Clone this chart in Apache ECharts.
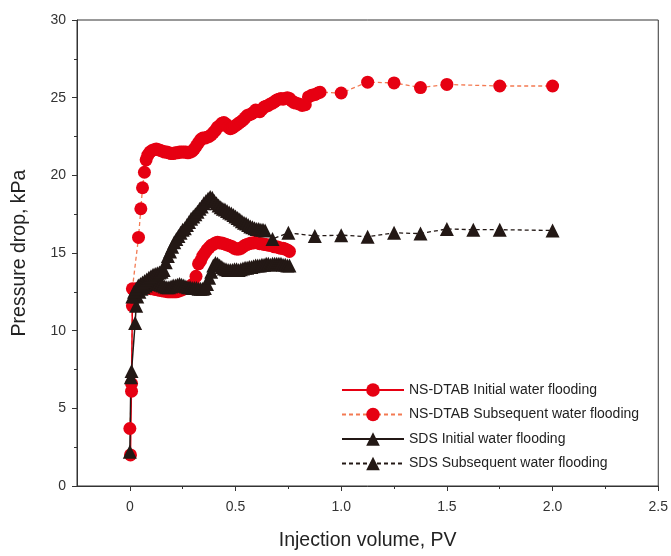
<!DOCTYPE html>
<html>
<head>
<meta charset="utf-8">
<script src="https://cdn.jsdelivr.net/npm/echarts@6/dist/echarts.min.js"></script>
<style>html,body{margin:0;padding:0;background:#fff}#c{width:671px;height:556px}</style>
</head>
<body>
<div id="c"></div>
<script>
// ---- data ----
const xTickLabels = [0, 0.5, 1.0, 1.5, 2.0, 2.5];
const xMinorTicks = [0.25, 0.75, 1.25, 1.75, 2.25];
const seriesNames = [
  'NS-DTAB Initial water flooding',
  'NS-DTAB Subsequent water flooding',
  'SDS Initial water flooding',
  'SDS Subsequent water flooding'
];

const nsInitX = [0.003,0.008,0.012,0.02,0.03,0.04,0.05,0.06,0.07,0.08,0.09,0.1,0.11,0.12,0.13,0.14,0.15,0.16,0.17,0.18,0.19,0.2,0.21,0.22,0.23,0.24,0.25,0.26,0.27,0.28,0.29,0.3,0.313,0.325,0.335,0.345,0.355,0.365,0.375,0.385,0.395,0.405,0.415,0.425,0.435,0.445,0.455,0.465,0.475,0.485,0.495,0.505,0.515,0.525,0.535,0.545,0.555,0.565,0.575,0.585,0.595,0.605,0.615,0.625,0.635,0.645,0.655,0.665,0.675,0.685,0.695,0.705,0.715,0.725,0.735,0.745,0.755];
const nsInitY = [2.0,6.6,11.6,12.6,12.7,12.7,12.75,12.8,12.8,12.75,12.75,12.7,12.7,12.65,12.65,12.6,12.6,12.55,12.55,12.5,12.5,12.5,12.5,12.5,12.55,12.6,12.65,12.7,12.75,12.8,12.9,13.0,13.5,14.3,14.5,14.8,15.0,15.2,15.35,15.5,15.55,15.65,15.7,15.65,15.65,15.6,15.55,15.5,15.45,15.4,15.3,15.25,15.25,15.3,15.4,15.5,15.55,15.6,15.65,15.65,15.7,15.65,15.6,15.6,15.55,15.55,15.5,15.5,15.45,15.4,15.4,15.35,15.3,15.3,15.25,15.2,15.1];

const nsSubX = [0.0,0.008,0.012,0.041,0.052,0.06,0.069,0.077,0.085,0.095,0.105,0.115,0.125,0.135,0.145,0.155,0.165,0.175,0.185,0.195,0.205,0.215,0.225,0.235,0.245,0.255,0.265,0.275,0.285,0.295,0.305,0.315,0.325,0.335,0.345,0.355,0.365,0.375,0.385,0.395,0.405,0.415,0.425,0.435,0.445,0.455,0.465,0.475,0.485,0.495,0.505,0.515,0.525,0.535,0.545,0.555,0.565,0.575,0.585,0.595,0.605,0.615,0.625,0.635,0.645,0.655,0.665,0.675,0.685,0.695,0.705,0.715,0.725,0.735,0.745,0.755,0.765,0.775,0.785,0.8,0.815,0.83,0.845,0.86,0.875,0.89,0.9,1.0,1.125,1.25,1.375,1.5,1.75,2.0];
const nsSubY = [3.7,6.1,12.7,16.0,17.85,19.2,20.2,21.0,21.3,21.5,21.6,21.65,21.7,21.65,21.6,21.55,21.5,21.5,21.45,21.4,21.4,21.45,21.45,21.5,21.5,21.5,21.5,21.45,21.5,21.55,21.7,21.9,22.1,22.3,22.4,22.4,22.45,22.5,22.6,22.75,22.9,23.1,23.2,23.35,23.4,23.3,23.1,23.0,23.05,23.15,23.25,23.35,23.45,23.55,23.7,23.85,23.9,23.95,24.05,24.2,24.15,24.1,24.25,24.4,24.45,24.5,24.6,24.65,24.75,24.85,24.9,24.95,24.9,24.95,25.0,24.95,24.8,24.7,24.65,24.6,24.5,24.55,25.05,25.15,25.2,25.3,25.35,25.3,26.0,25.95,25.65,25.85,25.75,25.75];

const sdsInitX = [0.0,0.005,0.008,0.025,0.03,0.035,0.045,0.055,0.065,0.075,0.085,0.095,0.105,0.115,0.125,0.135,0.145,0.155,0.165,0.175,0.185,0.195,0.205,0.215,0.225,0.235,0.245,0.255,0.265,0.275,0.285,0.295,0.305,0.315,0.325,0.335,0.345,0.355,0.365,0.375,0.385,0.395,0.405,0.415,0.425,0.435,0.445,0.455,0.465,0.475,0.485,0.495,0.505,0.515,0.525,0.535,0.545,0.555,0.565,0.575,0.585,0.595,0.605,0.615,0.625,0.635,0.645,0.655,0.665,0.675,0.685,0.695,0.705,0.715,0.725,0.735,0.745,0.755];
const sdsInitY = [2.2,7.0,7.4,10.5,11.6,12.2,12.5,12.7,12.8,12.9,13.0,13.0,13.05,13.1,13.05,13.0,12.95,12.9,12.85,12.8,12.8,12.85,12.9,12.9,12.95,13.0,12.95,12.9,12.85,12.8,12.8,12.75,12.75,12.75,12.7,12.7,12.7,12.75,13.0,13.4,13.8,14.2,14.35,14.3,14.2,14.1,14.0,13.95,13.9,13.9,13.9,13.95,13.95,13.9,13.95,14.0,14.05,14.05,14.1,14.1,14.15,14.2,14.2,14.2,14.25,14.25,14.3,14.3,14.25,14.3,14.3,14.3,14.3,14.3,14.25,14.25,14.2,14.2];

const sdsSubX = [0.012,0.02,0.03,0.04,0.05,0.06,0.07,0.08,0.09,0.1,0.11,0.12,0.13,0.14,0.15,0.16,0.17,0.18,0.19,0.2,0.21,0.22,0.23,0.24,0.25,0.26,0.27,0.28,0.29,0.3,0.31,0.32,0.33,0.34,0.35,0.36,0.37,0.38,0.39,0.4,0.41,0.42,0.43,0.44,0.45,0.46,0.47,0.48,0.49,0.5,0.51,0.52,0.53,0.54,0.55,0.56,0.57,0.58,0.59,0.6,0.61,0.62,0.63,0.64,0.675,0.75,0.875,1.0,1.125,1.25,1.375,1.5,1.625,1.75,2.0];
const sdsSubY = [12.2,12.5,12.7,12.9,13.0,13.1,13.2,13.3,13.4,13.5,13.6,13.65,13.7,13.75,13.8,13.9,14.4,14.8,15.1,15.4,15.7,15.9,16.1,16.3,16.5,16.6,16.8,17.0,17.2,17.35,17.5,17.65,17.85,18.0,18.2,18.35,18.5,18.6,18.55,18.35,18.2,18.05,17.95,17.85,17.8,17.7,17.6,17.55,17.45,17.35,17.25,17.15,17.05,16.95,16.9,16.8,16.7,16.65,16.6,16.55,16.55,16.5,16.5,16.45,15.9,16.3,16.1,16.15,16.05,16.3,16.25,16.55,16.5,16.5,16.45];

function pairs(xs, ys) { return xs.map((x, i) => [x, ys[i]]); }

const RED = '#e60012', ORANGE = '#f37a52', BLACK = '#231815';
const FONT = '"Liberation Sans", Arial, sans-serif';

const chart = echarts.init(document.getElementById('c'), null, {renderer: 'canvas'});
chart.setOption({
  animation: false,
  backgroundColor: '#fff',
  grid: {left: 77, right: 11, top: 20, bottom: 65, show: true, borderColor: '#333', borderWidth: 1, backgroundColor: 'transparent'},
  legend: {
    orient: 'vertical', left: 336, top: 378, itemWidth: 62, itemHeight: 17, itemGap: 10.5,
    data: seriesNames,
    textStyle: {fontFamily: FONT, fontSize: 14, color: '#222'}
  },
  xAxis: [{
    type: 'value', min: -0.25, max: 2.5, interval: 0.25,
    name: 'Injection volume, PV', nameLocation: 'middle', nameGap: 45,
    nameTextStyle: {fontFamily: FONT, fontSize: 19.5, color: '#222'},
    axisLine: {onZero: false, lineStyle: {color: '#333', width: 1}},
    axisTick: {show: true, length: 3, lineStyle: {color: '#333'}, customValues: xMinorTicks},
    axisLabel: {fontFamily: FONT, fontSize: 14, color: '#333', margin: 14, customValues: xTickLabels,
      formatter: v => v === 0 ? '0' : v.toFixed(1)},
    splitLine: {show: false}
  }, {
    type: 'value', min: -0.25, max: 2.5, interval: 0.25, position: 'bottom',
    axisLine: {show: false, onZero: false},
    axisTick: {show: true, length: 5, lineStyle: {color: '#333'}, customValues: xTickLabels},
    axisLabel: {show: false},
    splitLine: {show: false}
  }],
  yAxis: {
    type: 'value', min: 0, max: 30, interval: 5,
    name: 'Pressure drop, kPa', nameLocation: 'middle', nameGap: 47,
    nameTextStyle: {fontFamily: FONT, fontSize: 19.5, color: '#222'},
    axisLine: {show: true, onZero: false, lineStyle: {color: '#333', width: 1}},
    axisTick: {show: true, length: 5, lineStyle: {color: '#333'}},
    minorTick: {show: true, splitNumber: 2, length: 3, lineStyle: {color: '#333'}},
    axisLabel: {fontFamily: FONT, fontSize: 14, color: '#333', margin: 11},
    splitLine: {show: false}
  },
  series: [
    {
      name: seriesNames[1], type: 'line', data: pairs(nsSubX, nsSubY),
      symbol: 'circle', symbolSize: 13, showAllSymbol: true,
      lineStyle: {color: ORANGE, width: 1.3, type: [4, 3]},
      itemStyle: {color: RED}
    },
    {
      name: seriesNames[0], type: 'line', data: pairs(nsInitX, nsInitY),
      symbol: 'circle', symbolSize: 13, showAllSymbol: true,
      lineStyle: {color: RED, width: 1.5},
      itemStyle: {color: RED}
    },
    {
      name: seriesNames[2], type: 'line', data: pairs(sdsInitX, sdsInitY),
      symbol: 'triangle', symbolSize: 14, showAllSymbol: true,
      lineStyle: {color: BLACK, width: 1.5},
      itemStyle: {color: BLACK}
    },
    {
      name: seriesNames[3], type: 'line', data: pairs(sdsSubX, sdsSubY),
      symbol: 'triangle', symbolSize: 14, showAllSymbol: true,
      lineStyle: {color: BLACK, width: 1.3, type: [4, 3]},
      itemStyle: {color: BLACK}
    }
  ]
});
</script>
</body>
</html>
